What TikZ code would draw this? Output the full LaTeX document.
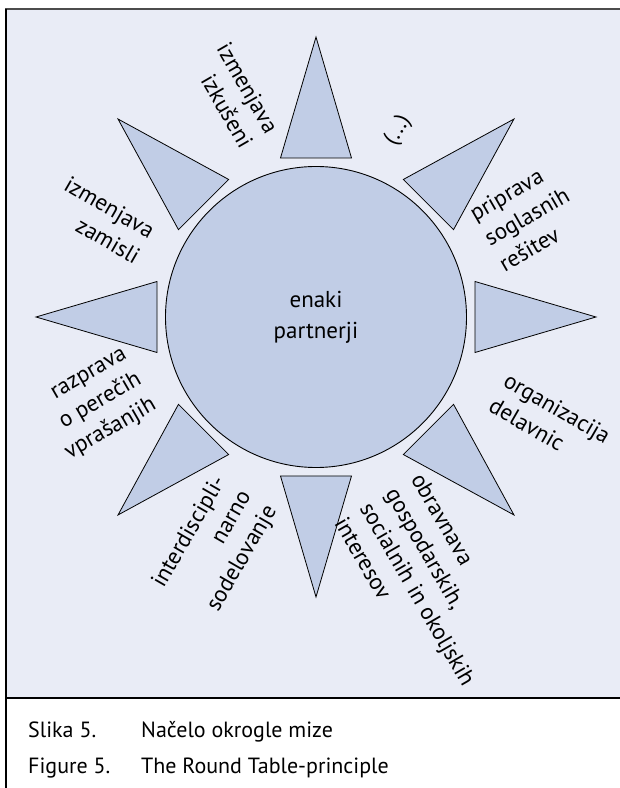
\documentclass[tikz,border=0pt]{standalone}
\usepackage{fontspec}
\setmainfont{PT Sans}
\usetikzlibrary{calc,positioning}
\definecolor{ozadje}{HTML}{E9ECF6}
\definecolor{modra}{HTML}{C1CDE6}

\begin{document}
\begin{tikzpicture}[x=1pt, y=1pt,
    zarek/.style={draw=black, fill=modra, line width=0.8pt},
    okrogla/.style={circle, draw=black, fill=modra, line width=0.9pt, minimum size=301pt,
      inner sep=0pt, align=center, font=\fontsize{23}{31}\selectfont},
    napis/.style={inner sep=0pt, font=\fontsize{23}{29.5}\selectfont},
    podpis/.style={inner sep=0pt, anchor=base west, font=\fontsize{22}{26}\selectfont}]
  \useasboundingbox (0,0) rectangle (620,788);
  \fill[ozadje] (6,90) rectangle (620,779);
  \draw[line width=1.6pt, black!70] (5,779) -- (620,779);
  \draw[line width=1.2pt] (6,779) -- (6,0);
  \draw[line width=1.4pt] (6,90) -- (620,90);

  \coordinate (C) at (316,471);
  \foreach \a in {0,45,...,315}
    \draw[zarek] ($(C)+(\a:280)$) -- ($(C)+(\a:159)+(\a+90:35.5)$)
      -- ($(C)+(\a:159)+(\a-90:35.5)$) -- cycle;
  \node[okrogla] (miza) at (C) {enaki\\partnerji};

  \node[napis, rotate=-60, anchor=east, align=right] (izkusnje) at (260,649.5) {izmenjava\\izkušeni};
  \node[napis, rotate=60] (tocke) at (398,658) {(...)};
  \node[napis, rotate=30, anchor=west, align=left] (resitve) at (486,548) {priprava\\soglasnih\\rešitev};
  \node[napis, rotate=-30, anchor=east, align=right] (zamisli) at (145.5,543) {izmenjava\\zamisli};
  \node[napis, rotate=30, anchor=east, align=right] (vprasanja) at (141,408) {razprava\\o perečih\\vprašanjih};
  \node[napis, rotate=-30, anchor=west, align=left] (delavnice) at (498.5,397) {organizacija\\delavnic};
  \node[napis, rotate=60, anchor=east, align=right] (sodelovanje) at (246.5,295) {interdiscipli-\\narno\\sodelovanje};
  \node[napis, rotate=-60, anchor=west, align=left] (interesi) at (379,291) {obravnava\\gospodarskih,\\socialnih in okoljskih\\interesov};

  \node[podpis] (slika) at (28,50) {Slika 5.};
  \node[podpis] (nacelo) at (141,50) {Načelo okrogle mize};
  \node[podpis, below=35pt of slika.base west, anchor=base west] (figura) {Figure 5.};
  \node[podpis, below=35pt of nacelo.base west, anchor=base west] (nacelo-en) {The Round Table-principle};
\end{tikzpicture}
\end{document}
